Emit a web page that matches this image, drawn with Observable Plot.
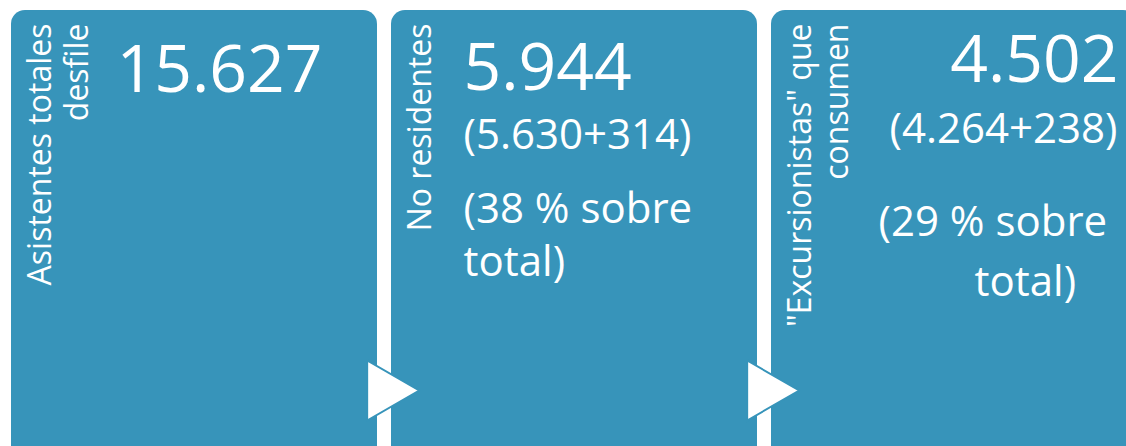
<!DOCTYPE html>
<html><head><meta charset="utf-8">
<script src="https://cdn.jsdelivr.net/npm/d3@7"></script>
<script src="https://cdn.jsdelivr.net/npm/@observablehq/plot@0.6"></script>
<style>
html,body{margin:0;padding:0;background:#fff;overflow:hidden}
#chart svg{display:block}
</style></head><body><div id="chart"></div>
<script>
// ---- data ----
const stageLabels = ["Asistentes totales\ndesfile", "No residentes", "\"Excursionistas\" que\nconsumen"];
const totals = [15627, 5944, 4502];
const partA = [null, 5630, 4264];
const partB = [null, 314, 238];
const sharePct = [null, 38, 29];

// ---- style / layout ----
const W = 1126, H = 446;
const FONT = "'Open Sans', 'Noto Sans', sans-serif";
const BOX = {color: "#3794BA", top: 10, rx: 14};
const es = d3.formatLocale({decimal: ",", thousands: ".", grouping: [3], currency: ["", " €"]});
const fmt = es.format(",d");

const layout = [
  {num: {anchor: "start", dx: -78, y: 91}},
  {num: {anchor: "start", dx: -111, y: 89}, parts: {anchor: "start", dx: -111, y: 148},
   share: [{anchor: "start", dx: -111, y: 222}, {anchor: "start", dx: -111, y: 275}]},
  {num: {anchor: "end", dx: 164, y: 81}, parts: {anchor: "end", dx: 163, y: 142},
   share: [{anchor: "start", dx: -76, y: 235}, {anchor: "start", dx: 20, y: 295}]}
];

const arrowSymbol = {
  draw(ctx, size) {
    const s = Math.sqrt(size / (3 * Math.sqrt(3)));
    ctx.moveTo(2 * s, 0);
    ctx.lineTo(-s, Math.sqrt(3) * s);
    ctx.lineTo(-s, -Math.sqrt(3) * s);
    ctx.closePath();
  }
};

function txt(i, text, o, fs) {
  return Plot.text([i], {
    x: j => stageLabels[j], y: () => o.y, text: () => text,
    dx: o.dx, textAnchor: o.anchor, lineAnchor: "bottom",
    fontSize: fs, fill: "white", fontFamily: FONT
  });
}

const marks = [
  Plot.barY(stageLabels, {x: d => d, y1: () => BOX.top, y2: () => H + 40, fill: BOX.color, rx: BOX.rx}),
  Plot.dot(stageLabels.slice(0, -1), {x: d => d, y: () => 390, symbol: arrowSymbol, r: 22.3,
    fill: "white", stroke: BOX.color, strokeWidth: 2, dx: 190}),
  Plot.text(stageLabels, {x: d => d, y: () => 23, text: d => d, rotate: -90, textAnchor: "end",
    lineAnchor: "top", lineHeight: 1.16, dx: -169.5, fontSize: 32, fill: "white", fontFamily: FONT})
];
layout.forEach((L, i) => {
  marks.push(txt(i, fmt(totals[i]), L.num, 66));
  if (L.parts) marks.push(txt(i, `(${fmt(partA[i])}+${fmt(partB[i])})`, L.parts, 42));
  if (L.share) {
    marks.push(txt(i, `(${sharePct[i]} % sobre`, L.share[0], 42));
    marks.push(txt(i, "total)", L.share[1], 42));
  }
});

const chart = Plot.plot({
  width: W, height: H, margin: 0,
  x: {type: "band", domain: stageLabels, range: [10, 1138.5], paddingInner: 0.038, paddingOuter: 0, axis: null},
  y: {domain: [0, H], range: [0, H], axis: null},
  style: {background: "white", overflow: "hidden"},
  marks
});
document.getElementById("chart").appendChild(chart);
</script></body></html>
